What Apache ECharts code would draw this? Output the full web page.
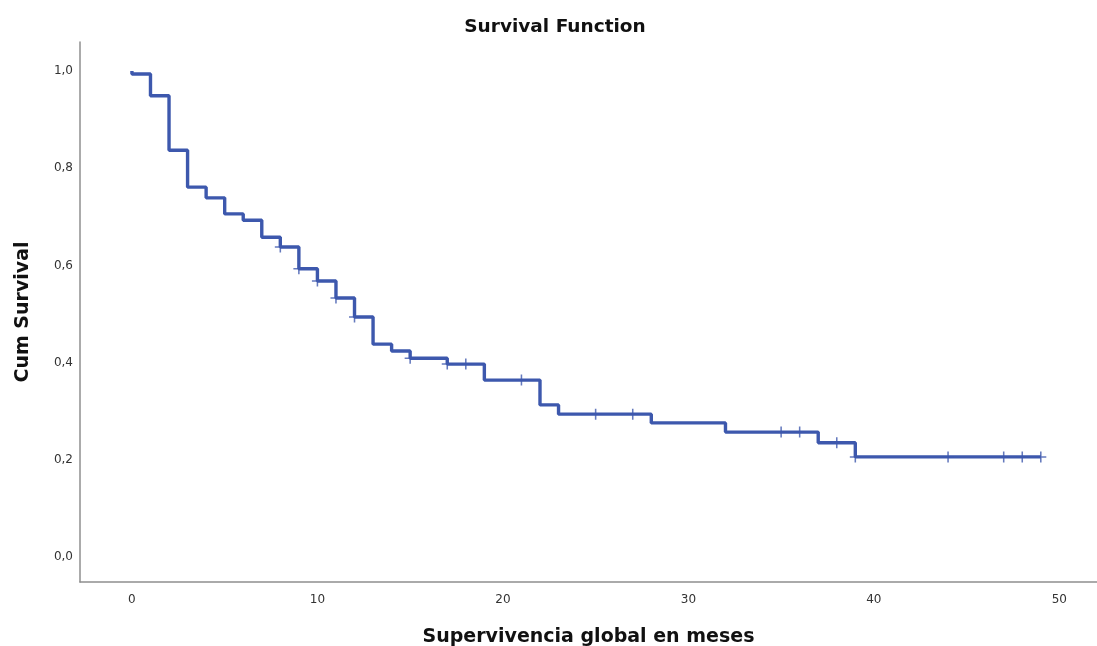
<!DOCTYPE html>
<html>
<head>
<meta charset="utf-8">
<script src="https://cdn.jsdelivr.net/npm/echarts@6/dist/echarts.min.js"></script>
<style>
  html, body { margin: 0; padding: 0; background: #ffffff; }
  #chart { width: 1097px; height: 646px; }
</style>
</head>
<body>
<div id="chart"></div>
<script>
// Kaplan-Meier step points: time (months) and cumulative survival after each drop
const stepTimes = [0, 0, 1, 2, 3, 4, 5, 6, 7, 8, 9, 10, 11, 12, 13, 14, 15, 17, 19, 22, 23, 28, 32, 37, 39, 49];
const survival  = [1.0, 0.994, 0.949, 0.837, 0.761, 0.739, 0.706, 0.693, 0.658, 0.638, 0.593, 0.568, 0.533, 0.494, 0.438, 0.424, 0.409, 0.397, 0.364, 0.313, 0.294, 0.276, 0.257, 0.235, 0.206, 0.206];
// Censored observations (months)
const censorTimes = [8, 9, 10, 11, 12, 15, 17, 18, 21, 25, 27, 35, 36, 38, 39, 44, 47, 48, 49];
const xTicks = [0, 10, 20, 30, 40, 50];
const yTicks = [0, 0.2, 0.4, 0.6, 0.8, 1.0];

const lineColor = '#3d58ad';
const axisColor = '#8f8f8f';
const labelFont = 'DejaVu Sans';

// survival level in effect at time t (after any drop at t)
function levelAt(t) {
  let s = survival[0];
  for (let i = 0; i < stepTimes.length; i++) {
    if (stepTimes[i] <= t) s = survival[i];
  }
  return s;
}

const curve = stepTimes.map((t, i) => [t, survival[i]]);
const censored = censorTimes.map(t => [t, levelAt(t)]);

const chart = echarts.init(document.getElementById('chart'), null, { renderer: 'canvas' });
chart.setOption({
  animation: false,
  backgroundColor: '#ffffff',
  title: {
    text: 'Survival Function',
    left: 550,
    textAlign: 'center',
    top: 13,
    textStyle: { fontFamily: labelFont, fontWeight: 'bold', fontSize: 18.5, color: '#111' }
  },
  grid: { left: 80, right: 0, top: 42, bottom: 64, outerBoundsMode: 'none' },
  xAxis: {
    type: 'value',
    min: -2.8,
    max: 52.03,
    name: 'Supervivencia global en meses',
    nameLocation: 'middle',
    nameGap: 46,
    nameTextStyle: { fontFamily: labelFont, fontWeight: 'bold', fontSize: 19, color: '#111' },
    axisLine: { show: true, onZero: false, lineStyle: { color: axisColor, width: 1.5 } },
    axisTick: { show: false },
    splitLine: { show: false },
    axisLabel: {
      customValues: xTicks,
      margin: 12,
      fontFamily: labelFont, fontSize: 12, color: '#333'
    }
  },
  yAxis: {
    type: 'value',
    min: -0.0514,
    max: 1.0597,
    name: 'Cum Survival',
    nameLocation: 'middle',
    nameGap: 47,
    nameRotate: 90,
    nameTextStyle: { fontFamily: labelFont, fontWeight: 'bold', fontSize: 19, color: '#111' },
    axisLine: { show: true, onZero: false, lineStyle: { color: axisColor, width: 1.5 } },
    axisTick: { show: false },
    splitLine: { show: false },
    axisLabel: {
      customValues: yTicks,
      margin: 7,
      fontFamily: labelFont, fontSize: 12, color: '#333',
      formatter: v => v.toFixed(1).replace('.', ',')
    }
  },
  series: [
    {
      type: 'line',
      data: curve,
      step: 'end',
      showSymbol: false,
      lineStyle: { color: lineColor, width: 3.4 },
      z: 2
    },
    {
      type: 'scatter',
      data: censored,
      symbol: 'path://M4.3,0H5.7V4.3H10V5.7H5.7V10H4.3V5.7H0V4.3H4.3Z',
      symbolSize: 11,
      itemStyle: { color: lineColor },
      z: 3
    }
  ]
});
</script>
</body>
</html>
